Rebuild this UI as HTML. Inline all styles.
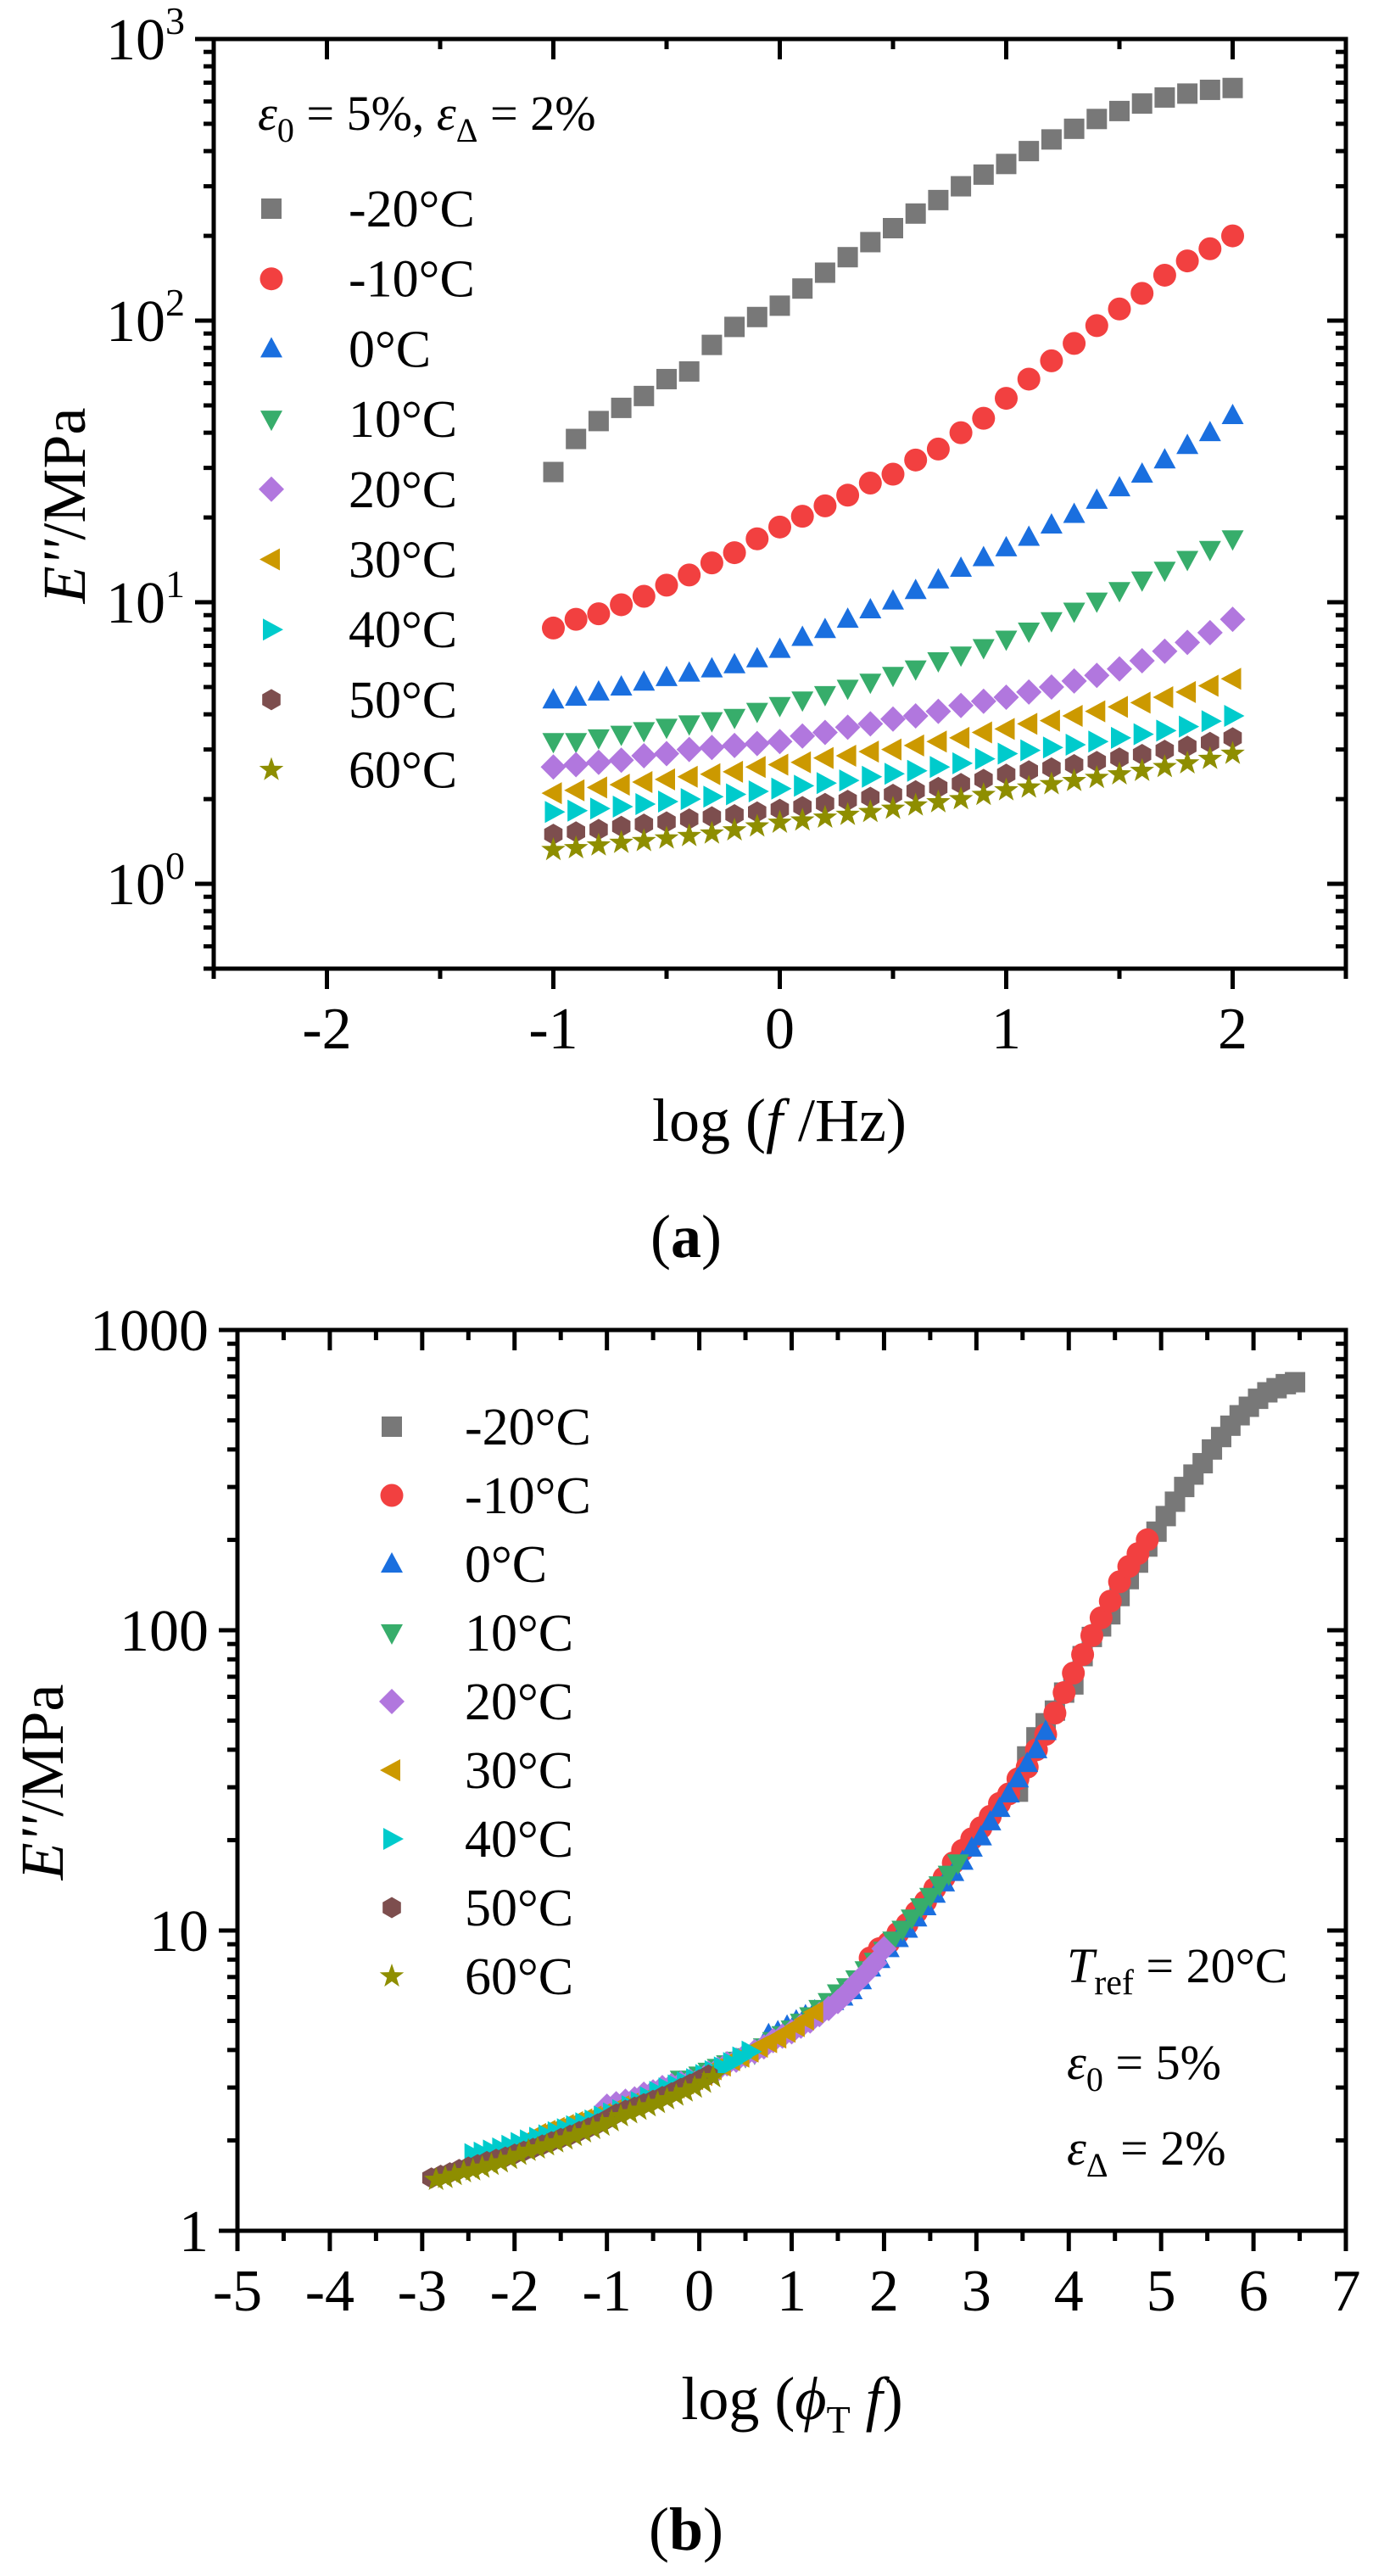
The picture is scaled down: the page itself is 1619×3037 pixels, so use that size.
<!DOCTYPE html>
<html><head><meta charset="utf-8"><style>
body{margin:0;background:#fff}
svg{display:block}
text{font-family:"Liberation Serif","DejaVu Serif",serif}
</style></head><body>
<svg id="fig" width="1619" height="3037" viewBox="0 0 1619 3037" xmlns="http://www.w3.org/2000/svg" font-family="Liberation Serif, DejaVu Serif, serif">
<rect width="1619" height="3037" fill="#fff"/>
<g id="pa"></g>
<g id="pb"></g>
</svg>
<script>
const NS="http://www.w3.org/2000/svg";
const temps=["-20°C","-10°C","0°C","10°C","20°C","30°C","40°C","50°C","60°C"];
const colors=["#787878","#f24040","#1a6fdf","#37ad6b","#b177de","#cc9900","#00cbcc","#7d4e4e","#8e8e00"];
const shapes=["square","circle","up","down","diamond","left","right","hex","star"];
const logF=[-1,-0.9,-0.8,-0.7,-0.6,-0.5,-0.4,-0.3,-0.2,-0.1,0,0.1,0.2,0.3,0.4,0.5,0.6,0.7,0.8,0.9,1,1.1,1.2,1.3,1.4,1.5,1.6,1.7,1.8,1.9,2];
const sM20=[29,38,44,49,54,62,66,82,95,103,113,130,148,168,190,213,240,268,300,330,360,400,440,480,520,555,590,620,640,660,670];
const sM10=[8.1,8.7,9.1,9.8,10.5,11.5,12.5,13.8,15,16.8,18.5,20.2,22,24,26.5,28.5,32,35,40,45,53,62,72,83,96,110,125,145,163,180,200];
const s0=[4.5,4.6,4.8,5.0,5.2,5.4,5.6,5.8,6.0,6.3,6.8,7.5,8.0,8.7,9.4,10.1,11,12,13.2,14.4,15.6,17,18.8,20.5,23,25.5,28.5,32,36,40,46];
const s10=[3.2,3.2,3.3,3.4,3.5,3.6,3.7,3.8,3.9,4.1,4.3,4.5,4.7,4.95,5.2,5.5,5.8,6.2,6.5,6.9,7.4,7.9,8.6,9.3,10.1,11,12,13,14.2,15.4,16.8];
const s20=[2.6,2.65,2.7,2.75,2.85,2.9,3.0,3.05,3.1,3.15,3.2,3.35,3.45,3.6,3.7,3.85,3.95,4.1,4.3,4.45,4.6,4.8,5.0,5.25,5.5,5.8,6.2,6.7,7.2,7.8,8.7];
const s30=[2.1,2.15,2.2,2.25,2.3,2.35,2.4,2.45,2.5,2.6,2.65,2.7,2.8,2.85,2.95,3.0,3.1,3.2,3.3,3.45,3.55,3.7,3.8,3.95,4.1,4.25,4.4,4.6,4.8,5.05,5.35];
const s40=[1.8,1.82,1.85,1.88,1.92,1.96,2.0,2.04,2.08,2.13,2.18,2.23,2.28,2.33,2.4,2.46,2.52,2.6,2.68,2.78,2.9,2.98,3.05,3.12,3.2,3.3,3.4,3.5,3.62,3.78,3.95];
const s50=[1.5,1.53,1.56,1.6,1.63,1.66,1.7,1.73,1.76,1.8,1.84,1.88,1.93,1.98,2.03,2.08,2.14,2.2,2.27,2.35,2.45,2.52,2.58,2.65,2.72,2.8,2.88,2.98,3.08,3.18,3.3];
const s60=[1.32,1.34,1.37,1.4,1.42,1.45,1.48,1.51,1.55,1.6,1.65,1.68,1.72,1.76,1.8,1.85,1.9,1.95,2.0,2.07,2.15,2.2,2.26,2.32,2.38,2.45,2.52,2.6,2.68,2.78,2.9];
const series=[sM20,sM10,s0,s10,s20,s30,s40,s50,s60];
const shiftX=[4.45,2.85,1.75,0.8,0,-0.75,-1.45,-1.9,-1.85];
const shiftY=[1,1,1,1,1,1,1,1,1.12];
const xTicksA=[-2,-1,0,1,2];
const yExpA=[0,1,2,3];
const xTicksB=[-5,-4,-3,-2,-1,0,1,2,3,4,5,6,7];
const yTicksB=[1,10,100,1000];

function el(tag,attrs,parent){const e=document.createElementNS(NS,tag);for(const k in attrs)e.setAttribute(k,attrs[k]);parent.appendChild(e);return e;}
function marker(parent,shape,cx,cy,c){
  let e;const s=12.5;
  if(shape==="square")e=el("rect",{x:cx-12,y:cy-12,width:24,height:24,fill:c},parent);
  else if(shape==="circle")e=el("circle",{cx:cx,cy:cy,r:13.5,fill:c},parent);
  else{
    let pts=[];
    if(shape==="up")pts=[[0,-14],[13,10],[-13,10]];
    else if(shape==="down")pts=[[0,14],[13,-10],[-13,-10]];
    else if(shape==="left")pts=[[-14,0],[10,-13],[10,13]];
    else if(shape==="right")pts=[[14,0],[-10,-13],[-10,13]];
    else if(shape==="diamond")pts=[[0,-15],[15,0],[0,15],[-15,0]];
    else if(shape==="hex"){for(let i=0;i<6;i++){const a=Math.PI/3*i+Math.PI/6;pts.push([s*Math.cos(a),s*Math.sin(a)]);}}
    else if(shape==="star"){for(let i=0;i<10;i++){const r=i%2?6:15;const a=-Math.PI/2+Math.PI/5*i;pts.push([r*Math.cos(a),r*Math.sin(a)]);}}
    e=el("polygon",{points:pts.map(p=>(cx+p[0]).toFixed(1)+","+(cy+p[1]).toFixed(1)).join(" "),fill:c},parent);
  }
  return e;
}
function txt(parent,x,y,str,size,anchor,extra){const t=el("text",Object.assign({x:x,y:y,"font-size":size,"font-family":"Liberation Serif, DejaVu Serif, serif","text-anchor":anchor||"start",fill:"#000"},extra||{}),parent);t.innerHTML=str;return t;}

function drawPanel(g,o){
  const X=v=>o.x0+(v-o.xmin)/(o.xmax-o.xmin)*(o.x1-o.x0);
  const Y=v=>o.y1-(Math.log10(v)-o.lmin)/(o.lmax-o.lmin)*(o.y1-o.y0);
  const dg=el("g",{},g);
  
  
  series.forEach((arr,si)=>{
    const sg=el("g",{},dg);
    
    
    arr.forEach((v,i)=>{
      const xv=o.shift?logF[i]+shiftX[si]:logF[i];
      const yv=o.shift?v*shiftY[si]:v;
      const m=marker(sg,shapes[si],X(xv),Y(yv),colors[si]);
      
      
    });
  });
  const ax=el("g",{stroke:"#000","stroke-width":5,fill:"none"},g);
  
  
  el("rect",{x:o.x0,y:o.y0,width:o.x1-o.x0,height:o.y1-o.y0},ax);
  for(let v=o.xmin;v<=o.xmax+1e-9;v+=o.xminor){
    const isMaj=Math.abs(v/o.xmajor-Math.round(v/o.xmajor))<1e-6;
    const L=isMaj?24:12,x=X(v);
    el("line",{x1:x,y1:o.y1,x2:x,y2:o.y1+L},ax);
    el("line",{x1:x,y1:o.y0,x2:x,y2:o.y0+L},ax);
  }
  for(let d=Math.floor(o.lmin);d<o.lmax;d++){
    for(let k=1;k<10;k++){
      const v=k*Math.pow(10,d);const l=Math.log10(v);
      if(l<o.lmin-1e-9||l>o.lmax+1e-9)continue;
      const L=k===1?22:12,y=Y(v);
      el("line",{x1:o.x0,y1:y,x2:o.x0-L,y2:y},ax);
      el("line",{x1:o.x1,y1:y,x2:o.x1-L,y2:y},ax);
    }
  }
  const topY=Y(Math.pow(10,o.lmax));
  el("line",{x1:o.x0,y1:topY,x2:o.x0-22,y2:topY},ax);
  el("line",{x1:o.x1,y1:topY,x2:o.x1-22,y2:topY},ax);
  o.xt.forEach(v=>{const t=txt(g,X(v),o.y1+94,String(v),70,"middle");
    
    });
  o.yt.forEach(v=>{
    const t=txt(g,o.x0-34,Y(v)+24,o.ylab(v),70,"end");
    
    });
  return {X,Y};
}

const pa=document.getElementById("pa");
drawPanel(pa,{x0:252,x1:1587,y0:46,y1:1142,xmin:-2.5,xmax:2.5,xmajor:1,xminor:0.5,lmin:Math.log10(0.5),lmax:3,
  xt:xTicksA,yt:yExpA.map(e=>Math.pow(10,e)),ylab:v=>'10<tspan dy="-30" font-size="46">'+Math.round(Math.log10(v))+'</tspan>'});
const pb=document.getElementById("pb");
drawPanel(pb,{x0:280,x1:1587,y0:1568,y1:2630,xmin:-5,xmax:7,xmajor:1,xminor:0.5,lmin:0,lmax:3,shift:true,
  xt:xTicksB,yt:yTicksB,ylab:v=>String(v)});

function legend(g,mx,tx,y0,dy,name){
  const lg=el("g",{},g);
  
  
  temps.forEach((t,i)=>{
    const y=y0+i*dy;
    marker(lg,shapes[i],mx,y,colors[i]);
    const tt=txt(lg,tx,y+21,t,62);
    
    
  });
}
legend(pa,320,411,246,82.7,"legend-a");
legend(pb,462,548,1682,81,"legend-b");

let t;
t=txt(pa,304,153,'<tspan font-style="italic">ε</tspan><tspan dy="14" font-size="40">0</tspan><tspan dy="-14"> = 5%, </tspan><tspan font-style="italic">ε</tspan><tspan dy="14" font-size="40">Δ</tspan><tspan dy="-14"> = 2%</tspan>',58);


t=txt(pb,1258,2337,'<tspan font-style="italic">T</tspan><tspan dy="14" font-size="42">ref</tspan><tspan dy="-14"> = 20°C</tspan>',58);


t=txt(pb,1258,2451,'<tspan font-style="italic">ε</tspan><tspan dy="14" font-size="40">0</tspan><tspan dy="-14"> = 5%</tspan>',58);


t=txt(pb,1258,2552,'<tspan font-style="italic">ε</tspan><tspan dy="14" font-size="40">Δ</tspan><tspan dy="-14"> = 2%</tspan>',58);



t=txt(pa,919,1345,'log (<tspan font-style="italic">f</tspan> /Hz)',72,"middle");


t=txt(pa,0,0,'<tspan font-style="italic">E\'\'</tspan>/MPa',72,"middle",{transform:"translate(100,596) rotate(-90)"});


t=txt(pa,809,1482,'(<tspan font-weight="bold">a</tspan>)',72,"middle");


t=txt(pb,934,2852,'log (<tspan font-style="italic">ϕ</tspan><tspan dy="16" font-size="46">T</tspan><tspan dy="-16" font-style="italic"> f</tspan>)',72,"middle");


t=txt(pb,0,0,'<tspan font-style="italic">E\'\'</tspan>/MPa',72,"middle",{transform:"translate(74,2101) rotate(-90)"});


t=txt(pb,809,3006,'(<tspan font-weight="bold">b</tspan>)',72,"middle");


</script>
</body></html>
